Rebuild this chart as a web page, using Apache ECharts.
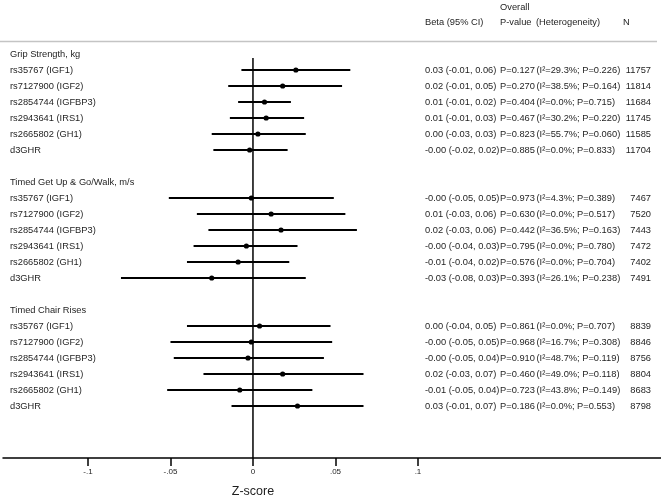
<!DOCTYPE html>
<html>
<head>
<meta charset="utf-8">
<script src="https://cdn.jsdelivr.net/npm/echarts@6/dist/echarts.min.js"></script>
<style>html,body{margin:0;padding:0;background:#fff;}#c{width:661px;height:501px;}</style>
</head>
<body>
<div id="c"></div>
<script>
// ---------------- DATA ----------------
const groups = ['Grip Strength, kg', 'Timed Get Up & Go/Walk, m/s', 'Timed Chair Rises'];
const snps = ['rs35767 (IGF1)', 'rs7127900 (IGF2)', 'rs2854744 (IGFBP3)', 'rs2943641 (IRS1)', 'rs2665802 (GH1)', 'd3GHR'];

const gripBeta = [0.026, 0.018, 0.007, 0.008, 0.003, -0.002];
const gripLow  = [-0.007, -0.015, -0.009, -0.014, -0.025, -0.024];
const gripHigh = [0.059, 0.054, 0.023, 0.031, 0.032, 0.021];

const tugBeta = [-0.001, 0.011, 0.017, -0.004, -0.009, -0.025];
const tugLow  = [-0.051, -0.034, -0.027, -0.036, -0.040, -0.080];
const tugHigh = [0.049, 0.056, 0.063, 0.027, 0.022, 0.032];

const chairBeta = [0.004, -0.001, -0.003, 0.018, -0.008, 0.027];
const chairLow  = [-0.040, -0.050, -0.048, -0.030, -0.052, -0.013];
const chairHigh = [0.047, 0.048, 0.043, 0.067, 0.036, 0.067];

const gripCI = ['0.03 (-0.01, 0.06)', '0.02 (-0.01, 0.05)', '0.01 (-0.01, 0.02)', '0.01 (-0.01, 0.03)', '0.00 (-0.03, 0.03)', '-0.00 (-0.02, 0.02)'];
const gripP = ['P=0.127', 'P=0.270', 'P=0.404', 'P=0.467', 'P=0.823', 'P=0.885'];
const gripHet = ['(I²=29.3%; P=0.226)', '(I²=38.5%; P=0.164)', '(I²=0.0%; P=0.715)', '(I²=30.2%; P=0.220)', '(I²=55.7%; P=0.060)', '(I²=0.0%; P=0.833)'];
const gripN = ['11757', '11814', '11684', '11745', '11585', '11704'];

const tugCI = ['-0.00 (-0.05, 0.05)', '0.01 (-0.03, 0.06)', '0.02 (-0.03, 0.06)', '-0.00 (-0.04, 0.03)', '-0.01 (-0.04, 0.02)', '-0.03 (-0.08, 0.03)'];
const tugP = ['P=0.973', 'P=0.630', 'P=0.442', 'P=0.795', 'P=0.576', 'P=0.393'];
const tugHet = ['(I²=4.3%; P=0.389)', '(I²=0.0%; P=0.517)', '(I²=36.5%; P=0.163)', '(I²=0.0%; P=0.780)', '(I²=0.0%; P=0.704)', '(I²=26.1%; P=0.238)'];
const tugN = ['7467', '7520', '7443', '7472', '7402', '7491'];

const chairCI = ['0.00 (-0.04, 0.05)', '-0.00 (-0.05, 0.05)', '-0.00 (-0.05, 0.04)', '0.02 (-0.03, 0.07)', '-0.01 (-0.05, 0.04)', '0.03 (-0.01, 0.07)'];
const chairP = ['P=0.861', 'P=0.968', 'P=0.910', 'P=0.460', 'P=0.723', 'P=0.186'];
const chairHet = ['(I²=0.0%; P=0.707)', '(I²=16.7%; P=0.308)', '(I²=48.7%; P=0.119)', '(I²=49.0%; P=0.118)', '(I²=43.8%; P=0.149)', '(I²=0.0%; P=0.553)'];
const chairN = ['8839', '8846', '8756', '8804', '8683', '8798'];

const headerTop = 'Overall';
const headers = ['Beta (95% CI)', 'P-value', '(Heterogeneity)', 'N'];
const tickValues = [-0.1, -0.05, 0, 0.05, 0.1];
const tickLabels = ['-.1', '-.05', '0', '.05', '.1'];
const axisTitle = 'Z-score';

// ---------------- LAYOUT ----------------
const FONT = '"Liberation Sans", Arial, sans-serif';
const TXT = '#1e1e1e';
const FS = 9.3;
const ROW0_Y = 54, ROW_H = 16, GRID_TOP = 38, AXIS_Y = 458;
const GRID_LEFT = 3, GRID_W = 658;
const X_MIN = -0.1515, X_MAX = 0.2473;
const Y_MIN = -(ROW0_Y - GRID_TOP) / ROW_H;
const Y_MAX = (AXIS_Y - ROW0_Y) / ROW_H;
const ZERO_TOP = 0.25;
const COL_LABEL = 10, COL_CI = 425, COL_P = 500, COL_HET = 536.5, COL_N = 651;

const betas = [gripBeta, tugBeta, chairBeta];
const lows = [gripLow, tugLow, chairLow];
const highs = [gripHigh, tugHigh, chairHigh];
const cis = [gripCI, tugCI, chairCI];
const ps = [gripP, tugP, chairP];
const hets = [gripHet, tugHet, chairHet];
const ns = [gripN, tugN, chairN];

const ciData = [];
const textRows = [];
groups.forEach((g, gi) => {
  const base = gi * 8;
  textRows.push({ row: base, label: g, ci: '', p: '', het: '', n: '' });
  snps.forEach((s, si) => {
    const r = base + 1 + si;
    ciData.push([r, lows[gi][si], betas[gi][si], highs[gi][si]]);
    textRows.push({ row: r, label: s, ci: cis[gi][si], p: ps[gi][si], het: hets[gi][si], n: ns[gi][si] });
  });
});

function txt(x, y, s, align) {
  return {
    type: 'text', x: x, y: y,
    style: { text: s, fill: TXT, font: FS + 'px ' + FONT, align: align || 'left', verticalAlign: 'middle' }
  };
}

const chart = echarts.init(document.getElementById('c'), null, { renderer: 'canvas' });
chart.setOption({
  animation: false,
  backgroundColor: '#fff',
  grid: { left: GRID_LEFT, width: GRID_W, top: GRID_TOP, bottom: 501 - AXIS_Y },
  xAxis: {
    type: 'value', min: X_MIN, max: X_MAX,
    splitLine: { show: false },
    axisLine: { onZero: false, lineStyle: { color: '#000', width: 1.5 } },
    axisTick: { customValues: tickValues, length: 8, lineStyle: { color: '#000', width: 1.5 } },
    axisLabel: {
      customValues: tickValues,
      formatter: v => tickLabels[tickValues.findIndex(t => Math.abs(t - v) < 1e-9)],
      color: TXT, fontFamily: FONT, fontSize: 8, margin: 10
    }
  },
  yAxis: { type: 'value', min: Y_MIN, max: Y_MAX, inverse: true, show: false, splitLine: { show: false } },
  series: [
    {
      type: 'line', data: [[0, ZERO_TOP], [0, Y_MAX]], symbol: 'none',
      lineStyle: { color: '#000', width: 1.5 }, silent: true, z: 1
    },
    {
      type: 'custom', data: ciData, z: 3,
      renderItem: (params, api) => {
        const r = api.value(0);
        const pL = api.coord([api.value(1), r]);
        const pB = api.coord([api.value(2), r]);
        const pH = api.coord([api.value(3), r]);
        return {
          type: 'group', children: [
            { type: 'line', shape: { x1: pL[0], y1: pL[1], x2: pH[0], y2: pH[1] }, style: { stroke: '#000', lineWidth: 2 } },
            { type: 'circle', shape: { cx: pB[0], cy: pB[1], r: 2.6 }, style: { fill: '#000' } }
          ]
        };
      }
    },
    {
      type: 'custom', data: textRows.map(t => [0, t.row]), z: 4, clip: false,
      renderItem: (params, api) => {
        const t = textRows[params.dataIndex];
        const y = api.coord([0, t.row])[1];
        const ch = [txt(COL_LABEL, y, t.label)];
        if (t.ci) {
          ch.push(txt(COL_CI, y, t.ci));
          ch.push(txt(COL_P, y, t.p));
          ch.push(txt(COL_HET, y, t.het));
          ch.push(txt(COL_N, y, t.n, 'right'));
        }
        return { type: 'group', children: ch };
      }
    }
  ]
});
const zx = chart.convertToPixel({ gridIndex: 0 }, [0, 0])[0];
chart.setOption({ graphic: [
  { type: 'line', shape: { x1: 0, y1: 41.5, x2: 657, y2: 41.5 }, style: { stroke: '#c4c4c4', lineWidth: 1.6 } },
  txt(COL_P, 7, headerTop),
  txt(COL_CI, 22, headers[0]),
  txt(COL_P, 22, headers[1]),
  txt(536, 22, headers[2]),
  txt(623, 22, headers[3]),
  { type: 'text', x: zx, y: 492, style: { text: axisTitle, fill: TXT, font: '12.5px ' + FONT, align: 'center', verticalAlign: 'middle' } }
] });
</script>
</body>
</html>
